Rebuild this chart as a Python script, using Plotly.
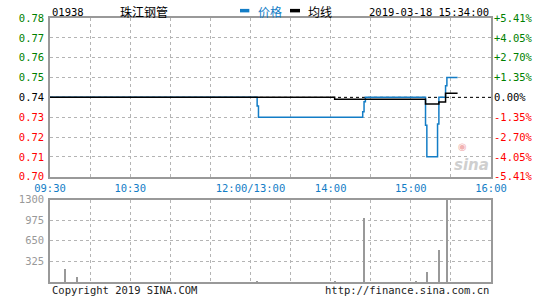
import plotly.graph_objects as go

# ---------------- data ----------------
code = "01938"
name = "珠江钢管"
timestamp = "2019-03-18 15:34:00"
prev_close = 0.74
session_minutes = 330  # 09:30-11:30 + 13:00-16:00 compressed, index in minutes

# price (minute index from 09:30, step values)
price_idx = [0, 155, 156, 234, 235, 236, 281, 282, 290, 291, 296, 297, 305]
price_val = [0.74, 0.7356, 0.73, 0.7328, 0.7378, 0.74, 0.7259, 0.71, 0.7265, 0.74, 0.7459, 0.75, 0.75]

# average price line
avg_idx = [0, 213, 281, 291, 296, 305]
avg_val = [0.74, 0.7391, 0.7366, 0.7376, 0.7421, 0.7421]

# volume bars
vol_idx = [11, 20, 155, 213, 235, 274, 282, 291, 297]
vol_val = [208, 78, 15, 15, 1014, 20, 170, 515, 1500]

# axis ticks
x_tickvals = list(range(0, 331, 30))
x_ticktext = ["09:30", "", "10:30", "", "", "12:00/13:00", "", "14:00", "", "15:00", "", "16:00"]
price_ticks = [0.70, 0.71, 0.72, 0.73, 0.74, 0.75, 0.76, 0.77, 0.78]
vol_ticks = [325, 650, 975, 1300]

# ---------------- styling ----------------
BLUE = "#137dc6"
GREEN = "#008000"
RED = "#ff0000"
GRID = "#b4b4b4"
FRAME = "#999999"
MONO = "DejaVu Sans Mono"


def color_for(v):
    if abs(v - prev_close) < 1e-9:
        return "#000000"
    return GREEN if v > prev_close else RED


left_text = [f'<span style="color:{color_for(v)}">{v:.2f}</span>' for v in price_ticks]
right_text = []
for v in price_ticks:
    pct = (v - prev_close) / prev_close * 100
    sign = "+" if pct > 1e-9 else ("-" if pct < -1e-9 else "")
    right_text.append(f'<span style="color:{color_for(v)}">{sign}{abs(pct):.2f}%</span>')

fig = go.Figure()

fig.add_trace(go.Scatter(
    x=[0, session_minutes], y=[prev_close, prev_close], mode="lines",
    line=dict(color="#000000", width=1, dash="dot"), hoverinfo="skip", showlegend=False))
fig.add_trace(go.Scatter(
    x=price_idx, y=price_val, mode="lines", line=dict(color=BLUE, width=1.5, shape="hv"),
    showlegend=False))
fig.add_trace(go.Scatter(
    x=avg_idx, y=avg_val, mode="lines", line=dict(color="#000000", width=1.5, shape="hv"),
    showlegend=False))
fig.add_trace(go.Scatter(
    x=[0], y=[prev_close], yaxis="y3", mode="markers", marker=dict(opacity=0),
    hoverinfo="skip", showlegend=False))
fig.add_trace(go.Bar(
    x=vol_idx, y=vol_val, xaxis="x2", yaxis="y2", width=0.9,
    marker=dict(color="#999999", line=dict(width=0)), showlegend=False))

axis_common = dict(showline=True, mirror=True, linecolor=FRAME, linewidth=1.5,
                   zeroline=False, ticks="", gridcolor=GRID, griddash="dot", gridwidth=1)

fig.update_layout(
    width=545, height=300,
    margin=dict(l=50, r=54, t=18, b=15),
    paper_bgcolor="white", plot_bgcolor="white",
    bargap=0,
    xaxis=dict(axis_common, domain=[0, 1], range=[0, session_minutes], tickmode="array",
               tickvals=x_tickvals, ticktext=x_ticktext, showgrid=True, anchor="y",
               tickfont=dict(family=MONO, size=10.5, color=BLUE), ticklabelstandoff=1),
    yaxis=dict(axis_common, domain=[0.3989, 1], range=[0.70, 0.78], tickmode="array",
               tickvals=price_ticks, ticktext=left_text, showgrid=True, anchor="x",
               tickfont=dict(family=MONO, size=10.5), ticklabelstandoff=2),
    yaxis3=dict(overlaying="y", side="right", range=[0.70, 0.78], tickmode="array",
                tickvals=price_ticks, ticktext=right_text, showgrid=False, zeroline=False,
                showline=False, ticks="", anchor="x",
                tickfont=dict(family=MONO, size=10.5), ticklabelstandoff=2),
    xaxis2=dict(axis_common, domain=[0, 1], range=[0, session_minutes], tickmode="array",
                tickvals=x_tickvals, showticklabels=False, showgrid=True, anchor="y2"),
    yaxis2=dict(axis_common, domain=[0, 0.312], range=[0, 1300], tickmode="array",
                tickvals=vol_ticks, ticktext=[str(v) for v in vol_ticks], showgrid=True,
                anchor="x2", tickfont=dict(family=MONO, size=10.5, color="#999999"),
                ticklabelstandoff=2),
)

# header
fig.add_annotation(text=code, xref="paper", yref="paper", x=0, y=1.0236, xanchor="left",
                   yanchor="middle", showarrow=False, font=dict(family=MONO, size=10.5, color="#000"))
fig.add_annotation(text=name, xref="paper", yref="paper", x=0.2125, y=1.0236, xanchor="center",
                   yanchor="middle", showarrow=False,
                   font=dict(family="Noto Sans CJK SC", size=12, color="#000"))
fig.add_shape(type="rect", xref="paper", yref="paper", x0=0.4308, x1=0.452, y0=1.0213, y1=1.0345,
              fillcolor=BLUE, line=dict(width=0))
fig.add_annotation(text="价格", xref="paper", yref="paper", x=0.467, y=1.0236, xanchor="left",
                   yanchor="middle", showarrow=False,
                   font=dict(family="Noto Sans CJK SC", size=12, color=BLUE))
fig.add_shape(type="rect", xref="paper", yref="paper", x0=0.5442, x1=0.5669, y0=1.0213, y1=1.0345,
              fillcolor="#000000", line=dict(width=0))
fig.add_annotation(text="均线", xref="paper", yref="paper", x=0.5805, y=1.0236, xanchor="left",
                   yanchor="middle", showarrow=False,
                   font=dict(family="Noto Sans CJK SC", size=12, color="#000"))
fig.add_annotation(text=timestamp, xref="paper", yref="paper", x=1.0, y=1.0236, xanchor="right",
                   yanchor="middle", showarrow=False, font=dict(family=MONO, size=10.5, color="#000"))

# footer
fig.add_annotation(text="Copyright 2019 SINA.COM", xref="paper", yref="paper", x=0, y=-0.03,
                   xanchor="left", yanchor="middle", showarrow=False,
                   font=dict(family=MONO, size=10.5, color="#222"))
fig.add_annotation(text="http://finance.sina.com.cn", xref="paper", yref="paper", x=1.0, y=-0.03,
                   xanchor="right", yanchor="middle", showarrow=False,
                   font=dict(family=MONO, size=10.5, color="#222"))

# watermark
fig.add_annotation(text="◉", xref="paper", yref="paper", x=0.935, y=0.515,
                   xanchor="center", yanchor="middle", showarrow=False,
                   font=dict(family="DejaVu Sans", size=10, color="#f2b3b3"))
fig.add_annotation(text="<b><i>sina</i></b>", xref="paper", yref="paper", x=0.955, y=0.445,
                   xanchor="center", yanchor="middle", showarrow=False,
                   font=dict(family="DejaVu Sans", size=15, color="#cfcfcf"))

fig.write_html("out.html")
